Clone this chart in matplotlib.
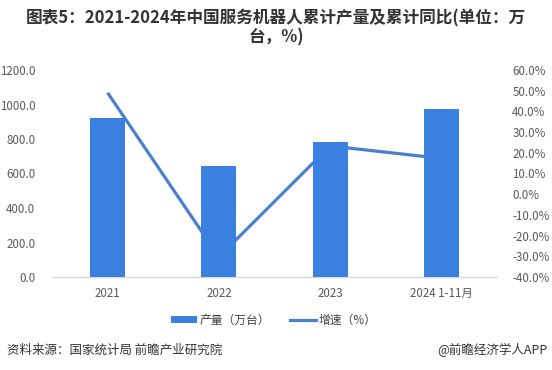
import matplotlib
matplotlib.use("Agg")
import matplotlib.pyplot as plt
from matplotlib.lines import Line2D
from matplotlib.patches import Patch

plt.rcParams['font.family'] = ['Noto Sans CJK SC', 'DejaVu Sans']

categories = ["2021", "2022", "2023", "2024 1-11月"]
production = [921.4, 645.8, 783.3, 974.0]
growth = [49.0, -30.3, 23.3, 17.3]
left_ticks = [0, 200, 400, 600, 800, 1000, 1200]
right_ticks = [-40, -30, -20, -10, 0, 10, 20, 30, 40, 50, 60]

bar_color = "#3a80e0"
line_color = "#4a80cf"
tick_color = "#595959"

fig = plt.figure(figsize=(5.52, 3.70), dpi=100)
ax1 = fig.add_axes([52/552, 1-277/370, 445/552, 207/370])
ax2 = ax1.twinx()
ax1.set_zorder(ax2.get_zorder() + 1)
ax1.patch.set_visible(False)

x = list(range(len(categories)))
ax1.bar(x, production, width=0.315, color=bar_color, zorder=3)
ax2.plot(x, growth, color=line_color, linewidth=2.3, solid_capstyle='butt', zorder=2)

ax1.set_xlim(-0.5, 3.5)
ax1.set_ylim(0, 1200)
ax2.set_ylim(-40, 60)
ax1.set_yticks(left_ticks)
ax1.set_yticklabels([f"{v:.1f}" for v in left_ticks])
ax2.set_yticks(right_ticks)
ax2.set_yticklabels([f"{v:.1f}%" for v in right_ticks])
ax1.set_xticks(x)
ax1.set_xticklabels(categories)

for ax in (ax1, ax2):
    for s in ax.spines.values():
        s.set_visible(False)
ax1.spines['bottom'].set_visible(True)
ax1.spines['bottom'].set_color("#d9d9d9")
ax1.spines['bottom'].set_linewidth(1.0)

ax1.tick_params(axis='y', length=0, pad=12, labelsize=8.3, labelcolor=tick_color)
ax2.tick_params(axis='y', length=0, pad=11, labelsize=8.3, labelcolor=tick_color)
ax1.tick_params(axis='x', length=0, pad=7, labelsize=8.3, labelcolor=tick_color)

fig.text(0.5, 1-18/370, "图表5：2021-2024年中国服务机器人累计产量及累计同比(单位：万",
         ha='center', va='center', fontsize=12, fontweight='bold', color='#333333')
fig.text(0.5, 1-37/370, "台，%)",
         ha='center', va='center', fontsize=12, fontweight='bold', color='#333333')

handles = [Patch(facecolor=bar_color, edgecolor='none'),
           Line2D([0], [0], color=line_color, linewidth=2.3)]
fig.legend(handles, ["产量（万台）", "增速（%）"], loc='center',
           bbox_to_anchor=(274/552, 1-320/370), ncol=2, frameon=False,
           fontsize=8.5, handlelength=2.15, handleheight=0.6, handletextpad=0.25,
           columnspacing=1.7, labelcolor='#404040')

fig.text(7/552, 1-350/370, "资料来源：国家统计局 前瞻产业研究院", ha='left', va='center',
         fontsize=9, color='#333333')
fig.text(548/552, 1-350/370, "@前瞻经济学人APP", ha='right', va='center',
         fontsize=9, color='#333333')

fig.savefig("out.png", dpi=100)
